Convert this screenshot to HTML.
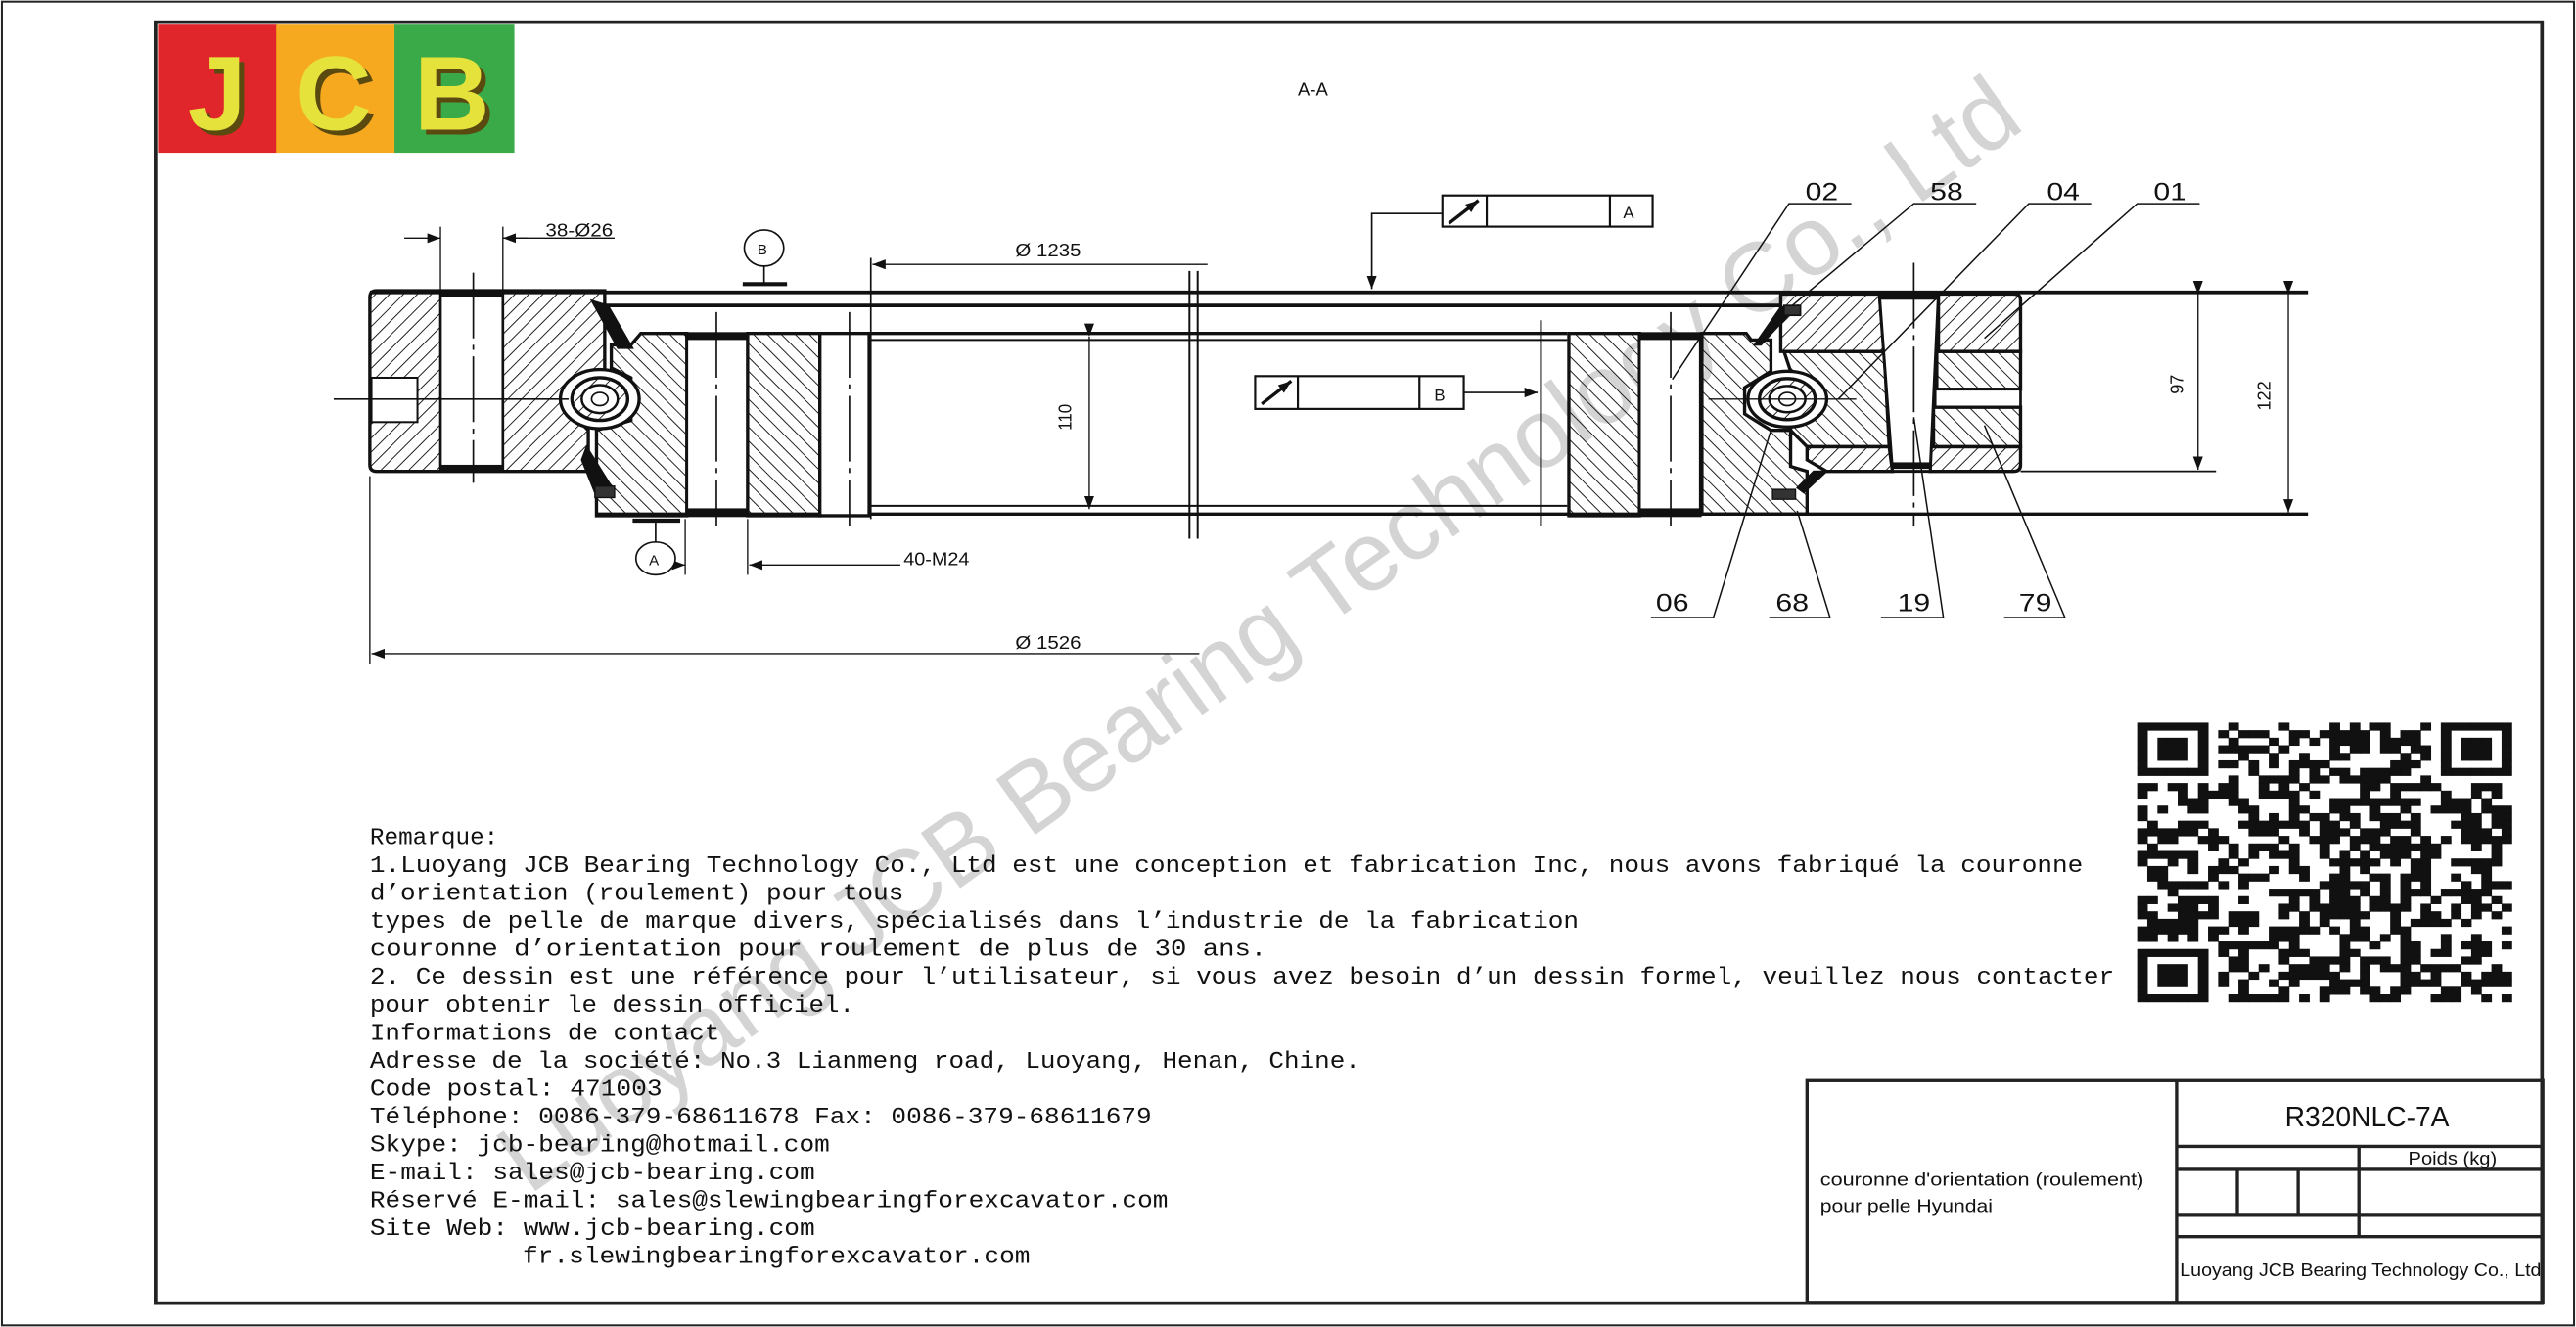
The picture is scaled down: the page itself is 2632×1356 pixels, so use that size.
<!DOCTYPE html>
<html><head><meta charset="utf-8"><style>
html,body{margin:0;padding:0;background:#fff}
svg{display:block}
.t{font-family:"Liberation Mono",monospace;fill:#111}
.n{font-family:"Liberation Sans",sans-serif;fill:#111}
</style></head><body>
<svg id="s" width="2632" height="1356" viewBox="0 0 1568 808" xmlns="http://www.w3.org/2000/svg">
<defs>
<pattern id="hb" width="6" height="6" patternUnits="userSpaceOnUse" patternTransform="rotate(45)"><line x1="0" y1="0" x2="0" y2="6" stroke="#111" stroke-width="1.1"/></pattern>
<pattern id="hf" width="6" height="6" patternUnits="userSpaceOnUse" patternTransform="rotate(-45)"><line x1="0" y1="0" x2="0" y2="6" stroke="#111" stroke-width="1.1"/></pattern>
<marker id="ar" markerWidth="8" markerHeight="6" refX="8" refY="3" orient="auto" markerUnits="userSpaceOnUse"><path d="M0,0 L8,3 L0,6z" fill="#111"/></marker>
</defs>
<rect x="0" y="0" width="1568" height="808" fill="#fff"/>
<rect x="1" y="1" width="1566" height="806" fill="none" stroke="#222" stroke-width="1.2"/>
<rect x="94.5" y="13.5" width="1453" height="780" fill="none" stroke="#222" stroke-width="2.2"/>
<!-- logo -->
<rect x="96" y="15" width="73" height="78" fill="#e0262b"/>
<rect x="168" y="15" width="73" height="78" fill="#f6a91f"/>
<rect x="240" y="15" width="73" height="78" fill="#3aaa48"/>
<g font-family="Liberation Sans,sans-serif" font-weight="bold" font-size="64" text-anchor="middle">
<text x="135" y="82" fill="#5a4a10">J</text><text x="206" y="82" fill="#5a4a10">C</text><text x="278" y="82" fill="#5a4a10">B</text>
<text x="132" y="79" fill="#e6e23c">J</text><text x="203" y="79" fill="#e6e23c">C</text><text x="275" y="79" fill="#e6e23c">B</text>
</g>
<text x="790" y="58" class="n" font-size="11">A-A</text>

<!-- watermark -->
<text x="0" y="0" font-family="Liberation Sans,sans-serif" font-size="60" fill="#d4d4d4" transform="translate(322,728) rotate(-35.5)" textLength="1120" lengthAdjust="spacingAndGlyphs">Luoyang JCB Bearing Technology Co., Ltd</text>

<g stroke="#111" fill="none">
<line x1="225" y1="178" x2="1405" y2="178" stroke-width="2.2"/>
<line x1="368" y1="186" x2="1084" y2="186" stroke-width="2.2"/>
<line x1="529" y1="203" x2="954" y2="203" stroke-width="2"/>
<line x1="529" y1="207" x2="954" y2="207" stroke-width="1.2"/>
<line x1="529" y1="308" x2="954" y2="308" stroke-width="1.2"/>
<line x1="363" y1="313" x2="1405" y2="313" stroke-width="2"/>
<line x1="1230" y1="287" x2="1349" y2="287" stroke-width="1"/>
<line x1="724" y1="165" x2="724" y2="328" stroke-width="1.2"/>
<line x1="729" y1="165" x2="729" y2="328" stroke-width="1.2"/>
<line x1="938" y1="195" x2="938" y2="320" stroke-width="1.2"/>

<!-- LEFT section -->
<path d="M229,177 H368 V226 L346,236 V250 L358,262 V287 H229 Q225,287 225,283 V181 Q225,177 229,177z" fill="url(#hb)" stroke-width="2"/>
<rect x="268" y="177" width="38" height="110" fill="#fff" stroke-width="1.6"/>
<rect x="268" y="177" width="38" height="3.5" fill="#111"/><rect x="268" y="283.5" width="38" height="3.5" fill="#111"/>
<rect x="226" y="230" width="28" height="27" fill="#fff" stroke-width="1.2"/>
<path d="M390,203 H418 V314 H363 V262 L384,256 V230 L372,224 V210 L384,210z" fill="url(#hf)" stroke-width="2"/>
<rect x="418" y="203" width="37" height="111" fill="#fff" stroke-width="1.6"/>
<rect x="418" y="203" width="37" height="3.5" fill="#111"/><rect x="418" y="310" width="37" height="3.5" fill="#111"/>
<rect x="455" y="203" width="44" height="111" fill="url(#hf)" stroke-width="2"/>
<rect x="499" y="203" width="30" height="111" fill="#fff" stroke-width="2"/>
<ellipse cx="365" cy="243" rx="24" ry="18" fill="#fff" stroke-width="2"/>
<ellipse cx="365" cy="243" rx="17" ry="13" fill="url(#hb)" stroke-width="2"/>
<ellipse cx="365" cy="243" rx="11" ry="8.5" fill="#fff" stroke-width="1.5"/>
<ellipse cx="365" cy="243" rx="5" ry="4" stroke-width="1"/>
<path d="M360,183 L370,186 L385,212 L376,212z" fill="#111"/>
<path d="M362,300 L372,296 L357,272 L354,280z" fill="#111"/>
<rect x="362" y="296" width="12" height="7" fill="#333" stroke-width="0.8"/>
<line x1="288" y1="166" x2="288" y2="294" stroke-width="1" stroke-dasharray="40,4,3,4"/>
<line x1="436" y1="190" x2="436" y2="320" stroke-width="1" stroke-dasharray="40,4,3,4"/>
<line x1="203" y1="243" x2="346" y2="243" stroke-width="1"/>
<line x1="530" y1="157" x2="530" y2="316" stroke-width="1"/>
<line x1="517" y1="190" x2="517" y2="320" stroke-width="1" stroke-dasharray="40,4,3,4"/>

<!-- RIGHT section -->
<rect x="955" y="203" width="43" height="111" fill="url(#hf)" stroke-width="2"/>
<rect x="998" y="203" width="37" height="111" fill="#fff" stroke-width="1.6"/>
<rect x="998" y="203" width="37" height="3.5" fill="#111"/><rect x="998" y="310" width="37" height="3.5" fill="#111"/>
<line x1="1017" y1="190" x2="1017" y2="320" stroke-width="1" stroke-dasharray="40,4,3,4"/>
<path d="M1036,203 H1063 L1066,207 H1078 V226 L1062,236 V252 L1078,262 H1090 V284 L1100,287 V313 H1036z" fill="url(#hf)" stroke-width="2"/>
<path d="M1084,179 H1144 L1147,214 H1084z" fill="url(#hb)" stroke-width="2"/>
<path d="M1086,214 H1147 L1150,272 H1100 L1090,262 V226z" fill="url(#hf)" stroke-width="2"/>
<path d="M1100,272 H1150 L1152,287 H1112 L1100,280z" fill="url(#hb)" stroke-width="2"/>
<path d="M1180,179 H1226 Q1230,179 1230,183 V214 H1180z" fill="url(#hb)" stroke-width="2"/>
<rect x="1179" y="214" width="51" height="23" fill="url(#hf)" stroke-width="2"/>
<rect x="1178" y="237" width="52" height="11" fill="#fff" stroke-width="1.6"/>
<rect x="1177" y="248" width="53" height="24" fill="url(#hf)" stroke-width="2"/>
<path d="M1175,272 H1230 V283 Q1230,287 1226,287 H1175z" fill="url(#hb)" stroke-width="2"/>
<path d="M1144,179 H1180 L1175,287 H1152z" fill="#fff" stroke-width="1.8"/>
<rect x="1145" y="179" width="34" height="3" fill="#111"/><rect x="1152" y="282" width="23" height="3" fill="#111"/>
<line x1="1165" y1="160" x2="1165" y2="320" stroke-width="1" stroke-dasharray="40,4,3,4"/>
<ellipse cx="1088" cy="243" rx="24" ry="17" fill="#fff" stroke-width="2"/>
<ellipse cx="1088" cy="243" rx="17" ry="12.5" fill="url(#hb)" stroke-width="2"/>
<ellipse cx="1088" cy="243" rx="11" ry="8" fill="#fff" stroke-width="1.5"/>
<ellipse cx="1088" cy="243" rx="5" ry="4" stroke-width="1"/>
<line x1="1040" y1="243" x2="1130" y2="243" stroke-width="0.8"/>
<path d="M1084,187 L1094,186 L1072,210 L1068,210z" fill="#111"/>
<rect x="1086" y="186" width="10" height="6" fill="#333"/>
<path d="M1094,297 L1104,287 L1112,287 L1098,300z" fill="#111"/>
<rect x="1079" y="298" width="14" height="6" fill="#333" stroke-width="0.8"/>

<!-- dims -->
<line x1="268" y1="138" x2="268" y2="177" stroke-width="0.8"/><line x1="306" y1="138" x2="306" y2="177" stroke-width="0.8"/>
<line x1="246" y1="145" x2="268" y2="145" stroke-width="0.8" marker-end="url(#ar)"/>
<line x1="321" y1="145" x2="306" y2="145" stroke-width="0.8" marker-end="url(#ar)"/>
<line x1="306" y1="145" x2="374" y2="145" stroke-width="0.8"/>
<line x1="735" y1="161" x2="531" y2="161" stroke-width="0.8" marker-end="url(#ar)"/>
<line x1="663" y1="205" x2="663" y2="310" stroke-width="0.8" marker-start="url(#ar)" marker-end="url(#ar)" />
<line x1="225" y1="290" x2="225" y2="404" stroke-width="0.8"/>
<line x1="730" y1="398" x2="226" y2="398" stroke-width="0.8" marker-end="url(#ar)"/>
<line x1="417" y1="316" x2="417" y2="350" stroke-width="0.8"/><line x1="455" y1="316" x2="455" y2="350" stroke-width="0.8"/>
<line x1="400" y1="344" x2="417" y2="344" stroke-width="0.8" marker-end="url(#ar)"/>
<line x1="548" y1="344" x2="456" y2="344" stroke-width="0.8" marker-end="url(#ar)"/>
<line x1="1338" y1="179" x2="1338" y2="286" stroke-width="0.8" marker-start="url(#ar)" marker-end="url(#ar)"/>
<line x1="1393" y1="179" x2="1393" y2="312" stroke-width="0.8" marker-start="url(#ar)" marker-end="url(#ar)"/>
<ellipse cx="465" cy="151" rx="12" ry="11" fill="#fff" stroke-width="1"/>
<line x1="465" y1="162" x2="465" y2="173" stroke-width="1"/>
<line x1="452" y1="173" x2="479" y2="173" stroke-width="2.5"/>
<ellipse cx="399" cy="340" rx="12" ry="10" fill="#fff" stroke-width="1"/>
<line x1="399" y1="318" x2="399" y2="330" stroke-width="1"/>
<line x1="385" y1="317" x2="414" y2="317" stroke-width="2.5"/>
<rect x="878" y="119" width="128" height="19" fill="#fff" stroke-width="1.3"/>
<line x1="905" y1="119" x2="905" y2="138" stroke-width="1.3"/><line x1="980" y1="119" x2="980" y2="138" stroke-width="1.3"/>
<line x1="882" y1="136" x2="900" y2="122" stroke-width="2" marker-end="url(#ar)"/>
<polyline points="878,130 835,130 835,176" stroke-width="1" marker-end="url(#ar)"/>
<rect x="764" y="229" width="127" height="20" fill="#fff" stroke-width="1.3"/>
<line x1="790" y1="229" x2="790" y2="249" stroke-width="1.3"/><line x1="864" y1="229" x2="864" y2="249" stroke-width="1.3"/>
<line x1="768" y1="246" x2="786" y2="232" stroke-width="2" marker-end="url(#ar)"/>
<line x1="891" y1="239" x2="936" y2="239" stroke-width="1" marker-end="url(#ar)"/>
<g stroke-width="0.9">
<polyline points="1127,124 1089,124 1018,231"/>
<polyline points="1203,124 1165,124 1091,186"/>
<polyline points="1273,124 1235,124 1119,243"/>
<polyline points="1339,124 1301,124 1208,206"/>
<polyline points="1005,376 1043,376 1078,262"/>
<polyline points="1077,376 1114,376 1094,311"/>
<polyline points="1145,376 1183,376 1165,254"/>
<polyline points="1220,376 1257,376 1208,259"/>
</g>
</g>
<g class="n" font-size="15">
<text x="1099" y="122" textLength="20" lengthAdjust="spacingAndGlyphs">02</text><text x="1175" y="122" textLength="20" lengthAdjust="spacingAndGlyphs">58</text>
<text x="1246" y="122" textLength="20" lengthAdjust="spacingAndGlyphs">04</text><text x="1311" y="122" textLength="20" lengthAdjust="spacingAndGlyphs">01</text>
<text x="1008" y="372" textLength="20" lengthAdjust="spacingAndGlyphs">06</text><text x="1081" y="372" textLength="20" lengthAdjust="spacingAndGlyphs">68</text>
<text x="1155" y="372" textLength="20" lengthAdjust="spacingAndGlyphs">19</text><text x="1229" y="372" textLength="20" lengthAdjust="spacingAndGlyphs">79</text>
</g>
<g class="n" font-size="11">
<text x="332" y="144" textLength="41" lengthAdjust="spacingAndGlyphs">38-Ø26</text>
<text x="618" y="156" textLength="40" lengthAdjust="spacingAndGlyphs">Ø 1235</text>
<text x="618" y="395" textLength="40" lengthAdjust="spacingAndGlyphs">Ø 1526</text>
<text x="550" y="344" textLength="40" lengthAdjust="spacingAndGlyphs">40-M24</text>
<text x="461" y="155" font-size="9">B</text><text x="395" y="344" font-size="9">A</text>
<text x="988" y="133" font-size="10">A</text><text x="873" y="244" font-size="10">B</text>
<text transform="translate(652,262) rotate(-90)" textLength="16" lengthAdjust="spacingAndGlyphs">110</text>
<text transform="translate(1329,240) rotate(-90)" textLength="12" lengthAdjust="spacingAndGlyphs">97</text>
<text transform="translate(1382,250) rotate(-90)" textLength="18" lengthAdjust="spacingAndGlyphs">122</text>
</g>

<g class="t" font-size="14.5">
<text x="225" y="514">Remarque:</text>
<text x="225" y="531" textLength="1043" lengthAdjust="spacingAndGlyphs">1.Luoyang JCB Bearing Technology Co., Ltd est une conception et fabrication Inc, nous avons fabriqué la couronne</text>
<text x="225" y="548" textLength="325" lengthAdjust="spacingAndGlyphs">d’orientation (roulement) pour tous</text>
<text x="225" y="565" textLength="736" lengthAdjust="spacingAndGlyphs">types de pelle de marque divers, spécialisés dans l’industrie de la fabrication</text>
<text x="225" y="582" textLength="546" lengthAdjust="spacingAndGlyphs">couronne d’orientation pour roulement de plus de 30 ans.</text>
<text x="225" y="599" textLength="1062" lengthAdjust="spacingAndGlyphs">2. Ce dessin est une référence pour l’utilisateur, si vous avez besoin d’un dessin formel, veuillez nous contacter</text>
<text x="225" y="616" textLength="295" lengthAdjust="spacingAndGlyphs">pour obtenir le dessin officiel.</text>
<text x="225" y="633" textLength="213" lengthAdjust="spacingAndGlyphs">Informations de contact</text>
<text x="225" y="650" textLength="603" lengthAdjust="spacingAndGlyphs">Adresse de la société: No.3 Lianmeng road, Luoyang, Henan, Chine.</text>
<text x="225" y="667" textLength="178" lengthAdjust="spacingAndGlyphs">Code postal: 471003</text>
<text x="225" y="684" textLength="476" lengthAdjust="spacingAndGlyphs">Téléphone: 0086-379-68611678 Fax: 0086-379-68611679</text>
<text x="225" y="701" textLength="280" lengthAdjust="spacingAndGlyphs">Skype: jcb-bearing@hotmail.com</text>
<text x="225" y="718" textLength="271" lengthAdjust="spacingAndGlyphs">E-mail: sales@jcb-bearing.com</text>
<text x="225" y="735" textLength="486" lengthAdjust="spacingAndGlyphs">Réservé E-mail: sales@slewingbearingforexcavator.com</text>
<text x="225" y="752" textLength="271" lengthAdjust="spacingAndGlyphs">Site Web: www.jcb-bearing.com</text>
<text x="318" y="769" textLength="309" lengthAdjust="spacingAndGlyphs">fr.slewingbearingforexcavator.com</text>
</g>

<g id="qr"></g>

<g stroke="#222" fill="none" stroke-width="2">
<rect x="1100" y="658" width="448" height="135"/>
<line x1="1325" y1="658" x2="1325" y2="793"/>
<line x1="1325" y1="698" x2="1548" y2="698"/>
<line x1="1325" y1="712" x2="1548" y2="712"/>
<line x1="1325" y1="740" x2="1548" y2="740"/>
<line x1="1325" y1="753" x2="1548" y2="753"/>
<line x1="1436" y1="698" x2="1436" y2="753"/>
<line x1="1362" y1="712" x2="1362" y2="740"/>
<line x1="1399" y1="712" x2="1399" y2="740"/>
</g>
<g class="n">
<text x="1441" y="686" font-size="17" text-anchor="middle" textLength="100" lengthAdjust="spacingAndGlyphs">R320NLC-7A</text>
<text x="1466" y="709" font-size="11" textLength="54" lengthAdjust="spacingAndGlyphs">Poids (kg)</text>
<text x="1108" y="722" font-size="11" textLength="197" lengthAdjust="spacingAndGlyphs">couronne d'orientation (roulement)</text>
<text x="1108" y="738" font-size="11" textLength="105" lengthAdjust="spacingAndGlyphs">pour pelle Hyundai</text>
<text x="1327" y="777" font-size="11" textLength="220" lengthAdjust="spacingAndGlyphs">Luoyang JCB Bearing Technology Co., Ltd</text>
</g>
</svg>
<script>
(function(){var g=document.getElementById('qr'),N=37,x0=1301,y0=440,w=228/N,h=170/N,s=12345,out='';
function r(){s=(s*1103515245+12345)&0x7fffffff;return s/0x7fffffff;}
function f(i,j){var c=[[0,0],[0,N-7],[N-7,0]];for(var k=0;k<3;k++){var a=i-c[k][0],b=j-c[k][1];if(a>=-1&&a<=7&&b>=-1&&b<=7){if(a<0||a>6||b<0||b>6)return 0;if(a==0||a==6||b==0||b==6)return 1;if(a==1||a==5||b==1||b==5)return 0;return 1;}}return -1;}
for(var i=0;i<N;i++)for(var j=0;j<N;j++){var v=f(i,j);if(v<0)v=r()<0.52?1:0;if(v)out+='<rect x="'+(x0+j*w).toFixed(2)+'" y="'+(y0+i*h).toFixed(2)+'" width="'+(w+0.3).toFixed(2)+'" height="'+(h+0.3).toFixed(2)+'" fill="#111"/>';}
g.innerHTML=out;})();
</script>
</body></html>
